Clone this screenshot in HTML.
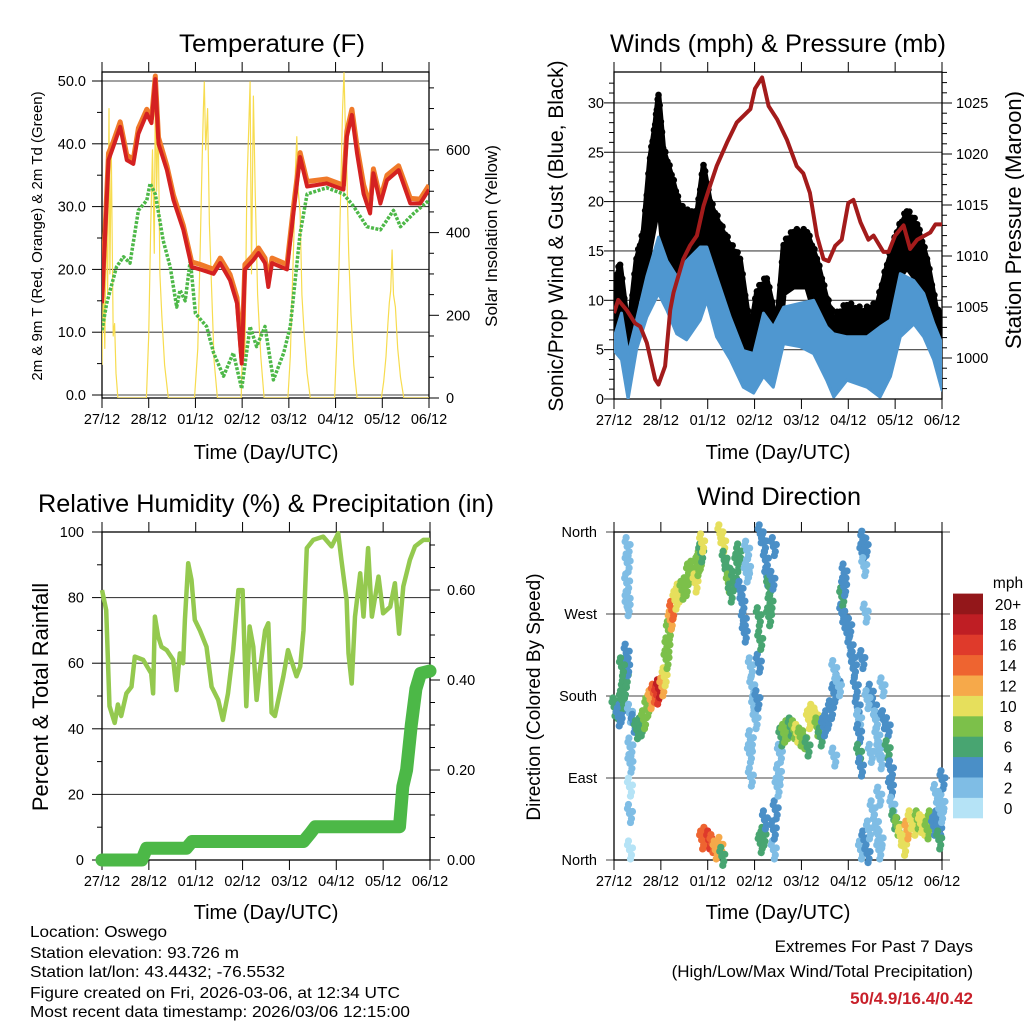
<!DOCTYPE html>
<html><head><meta charset="utf-8"><style>
html,body{margin:0;padding:0;background:#fff;}
svg{display:block;font-family:"Liberation Sans",sans-serif;}
</style></head><body>
<svg id="root" width="1024" height="1024" viewBox="0 0 1024 1024" xmlns="http://www.w3.org/2000/svg">
<rect width="1024" height="1024" fill="#fff"/>
</svg>
<script>
// ---------- Temperature panel data ----------
const redT=[0,0.14,0.24,0.39,0.53,0.67,0.78,0.96,1.06,1.14,1.21,1.39,1.53,1.74,1.92,2.1,2.39,2.53,2.74,2.89,2.99,3.06,3.24,3.35,3.49,3.56,3.64,3.96,4.1,4.24,4.39,4.81,5.17,5.24,5.35,5.46,5.6,5.74,5.81,5.96,6.1,6.35,6.6,6.81,7.0];
const redV=[14.6,37.4,39.5,42.7,37.4,36.8,41.6,44.8,43.3,50.3,40,35.8,31,26.3,20.4,20,19.3,21,18.3,14.6,5,20,21.5,22.6,21,17.2,21,20,29,37.9,33.2,33.7,32.7,41.1,44.6,38.4,32,28.9,35.3,30.5,34.2,35.8,30.5,30.5,32.7];
const orangeV=[15.5,38.5,40.3,43.5,38.2,37.5,42.5,45.5,44,50.8,41,36.5,31.8,27,21.2,20.8,20,21.8,19.2,15.5,6,20.8,22.3,23.4,21.8,18,21.8,20.8,30,38.6,34,34.4,33.4,42,45.5,39.5,33.5,30,36,31.3,35,36.5,31.3,31.2,33.4];
const dewT=[0,0.1,0.31,0.46,0.6,0.78,0.96,1.03,1.14,1.31,1.46,1.6,1.67,1.78,1.89,2.0,2.24,2.39,2.6,2.81,2.99,3.17,3.31,3.49,3.67,3.89,4.03,4.24,4.39,4.81,5.17,5.39,5.67,5.96,6.24,6.39,6.67,7.0];
const dewV=[10.3,14.6,20.4,22,21,29.4,31,33.7,32,24.6,20.4,14,16.7,15,21.5,13,10.9,6.7,3,6.7,1,10.9,7.7,10.9,2.4,6.7,10.9,25.7,32,33,32,30,26.8,26.3,29.4,26.8,28.9,31];
const solarT=[0,0.03,0.06,0.09,0.12,0.15,0.17,0.2,0.24,0.27,0.3,0.34,
0.95,1.0,1.04,1.08,1.12,1.14,1.17,1.2,1.24,1.28,1.34,1.42,
1.98,2.05,2.1,2.14,2.17,2.19,2.22,2.26,2.3,2.35,2.4,2.47,
2.98,3.02,3.06,3.1,3.14,3.17,3.2,3.24,3.28,3.33,3.4,3.47,
3.98,4.03,4.07,4.11,4.14,4.17,4.2,4.24,4.28,4.33,4.39,4.46,
4.98,5.03,5.07,5.11,5.15,5.18,5.21,5.24,5.28,5.33,5.39,5.46,
5.98,6.03,6.08,6.12,6.15,6.18,6.21,6.24,6.28,6.33,6.39,6.46,7.0];
const solarV=[80,300,120,450,250,700,300,600,150,180,60,0,
0,150,400,600,350,740,500,680,300,200,80,0,
0,120,350,560,700,765,600,700,420,250,90,0,
0,200,100,500,650,765,300,730,500,250,100,0,
0,100,250,400,550,632,500,450,250,150,60,0,
0,150,300,500,700,787,650,550,350,200,80,0,
0,40,100,180,230,260,358,250,220,120,50,0,0];
const tempTicks=[0,10,20,30,40,50];
const solarTicks=[0,200,400,600];
const dayLabels=["27/12","28/12","01/12","02/12","03/12","04/12","05/12","06/12"];

// ---------- Winds panel data ----------
const windT=[0,0.16,0.3,0.48,0.7,0.95,1.13,1.34,1.55,1.84,1.98,2.19,2.48,2.76,2.98,3.19,3.4,3.62,3.97,4.26,4.54,4.69,4.97,5.4,5.68,5.9,6.11,6.4,6.61,6.82,7.0];
const windHi=[6.2,8.7,4.6,8,12.4,16.4,14,12.4,14,15.4,15.4,12.4,8.3,4.9,4.6,8.7,7.3,9.3,9.7,10,7.3,6.6,6.3,6.3,7.3,8,12.7,12,10.7,7.7,5.6];
const windLo=[4.9,4,0,5,8.3,10.7,9,6.6,6,8,10,6.3,4,1.2,0.6,2.3,1.2,5.6,5.3,4.6,1.9,0.2,1.9,1.2,0.2,2.3,6.3,7.6,6.3,4,0.9];
const gustT=[0,0.13,0.31,0.48,0.63,0.77,0.88,0.95,1.05,1.23,1.41,1.62,1.77,1.91,2.05,2.26,2.48,2.69,2.91,3.05,3.26,3.48,3.62,3.83,4.12,4.33,4.54,4.69,4.97,5.33,5.61,5.83,6.04,6.25,6.47,6.68,6.89,7.0];
const gustHi=[11.4,13.4,6.6,14,16.7,24.2,27.6,30.6,25.2,22.5,19.2,18.5,18.5,23.5,19.8,17.5,15.4,14,6.6,10.7,12,7.3,15.4,16.7,16.7,14,10,8,9.3,8.7,9.3,13.4,16.7,18.8,17.5,14,8.7,8];
const gustLo=[7.3,6.3,4,10,10.7,15.4,18.1,20.8,15.4,14,12.7,12.7,12,15.4,13.4,10.7,8.7,5.6,4,4.6,6.6,4,10.7,11.4,11.4,8,5.3,4.6,5.3,6,5,7.3,12,13.4,12,10,6,4];
const presT=[0,0.09,0.27,0.45,0.56,0.7,0.88,0.95,1.09,1.2,1.27,1.48,1.62,1.77,1.91,2.05,2.19,2.41,2.62,2.91,3.01,3.16,3.3,3.48,3.69,3.9,4.04,4.18,4.33,4.47,4.58,4.72,4.86,5.0,5.11,5.26,5.43,5.54,5.75,5.86,6.0,6.18,6.32,6.47,6.75,6.86,7.0];
const presV=[1004.4,1005.7,1004.7,1003.4,1003.1,1001.5,997.9,997.4,999.2,1004.7,1006.4,1009.7,1011,1012,1014.9,1016.9,1018.8,1021.1,1023.1,1024.4,1026.4,1027.5,1024.7,1023.4,1021.4,1018.8,1018.1,1016.2,1012,1009.7,1009.5,1011,1011.6,1015.2,1015.5,1013.3,1011.6,1012,1010.4,1010.4,1012,1013,1010.7,1011.6,1012.3,1013.1,1013.1];
const windTicks=[0,5,10,15,20,25,30];
const presTicks=[1000,1005,1010,1015,1020,1025];

// ---------- RH / Precip data ----------
const rhT=[0,0.09,0.16,0.27,0.34,0.41,0.52,0.63,0.7,0.88,1.05,1.09,1.13,1.2,1.27,1.38,1.52,1.59,1.66,1.73,1.77,1.84,1.91,1.98,2.09,2.23,2.34,2.48,2.58,2.69,2.8,2.91,3.0,3.08,3.15,3.23,3.3,3.37,3.48,3.55,3.62,3.69,3.87,3.97,4.15,4.23,4.3,4.37,4.51,4.72,4.9,5.04,5.11,5.22,5.26,5.33,5.4,5.51,5.58,5.68,5.76,5.9,6.0,6.15,6.25,6.34,6.43,6.57,6.68,6.86,7.0];
const rhV=[82.3,76.2,46.9,41.8,47.4,43.9,50.8,52.8,62,61,56.9,50.8,74.2,68.1,65,64,61,51.8,63,60,73.2,90.5,85.4,73.2,70,65,52.8,48.8,42.7,50.8,64,82.3,82.3,46.9,71.2,65,48.8,57.9,70,72.2,44.9,43.9,55.9,64,56,59,70,95.1,97.6,98.6,95.6,99.6,91.5,79.3,63,53.8,74.2,87.4,74.2,95.1,74.2,86.4,75.2,77.2,84.4,69,83.4,91.5,95.6,97.6,97.6];
const rainT=[0,0.85,0.95,1.8,1.92,4.3,4.45,4.55,6.35,6.42,6.5,6.6,6.7,6.8,7.0];
const rainV=[0,0,0.026,0.026,0.041,0.041,0.06,0.074,0.074,0.163,0.2,0.3,0.38,0.415,0.42];
const rhTicks=[0,20,40,60,80,100];
const rainTicks=[0,0.2,0.4,0.6];
const rainTickLabels=["0.00","0.20","0.40","0.60"];

// ---------- Wind direction data ----------
const dirT=[0,.06,.13,.16,.2,.24,.26,.27,.09,.28,.28,.27,.28,.28,.33,.34,.34,.33,.33,.33,.16,
.41,.48,.56,.63,.7,.77,.84,.91,.95,1.02,1.07,1.11,1.13,1.16,1.2,1.23,1.3,1.37,1.45,1.52,1.59,1.66,1.73,1.77,1.82,1.85,1.87,
1.87,1.94,2.02,2.09,2.16,2.26,2.3,
2.26,2.32,2.35,2.41,2.44,2.48,2.55,2.62,2.66,2.69,2.73,2.76,2.78,2.82,2.83,2.85,
2.91,2.94,2.98,3.01,3.05,2.91,2.89,2.91,3.08,3.08,3.11,
3.12,3.19,3.23,3.26,3.3,3.33,3.37,3.4,3.3,3.12,3.18,3.21,3.4,
3.4,3.44,3.48,3.51,3.53,3.56,3.62,3.69,3.76,3.83,3.9,3.97,4.05,4.12,4.15,4.22,4.29,4.33,4.4,4.47,4.54,4.62,4.69,4.76,4.79,4.69,4.69,
4.86,4.86,4.9,4.91,4.94,4.97,5.01,5.04,5.08,5.11,5.15,5.19,5.22,5.22,5.22,5.26,5.29,5.31,5.36,5.33,5.29,5.36,
5.47,5.54,5.58,5.61,5.65,5.68,5.72,5.75,5.83,5.83,5.47,5.4,
5.26,5.33,5.4,5.43,5.51,5.58,5.65,5.68,5.65,
5.9,5.9,5.93,5.97,6.04,6.11,6.18,6.25,6.32,6.4,6.47,6.54,6.61,6.68,6.75,6.82,6.89,6.93,6.97,7.0,7.0,6.86,6.93];
const dirDeg=[168,165,161,176,187,201,227,212,157,344,326,304,285,278,161,124,106,80,51,11,212,
150,143,146,154,168,176,183,181,188,190,201,220,234,252,263,274,285,293,296,300,315,318,304,322,329,337,348,
22,26,22,18,11,15,4,
358,348,329,318,304,293,307,326,337,296,282,263,249,315,340,320,
212,190,168,154,176,132,117,91,216,267,241,
358,348,329,311,300,282,307,344,267,18,26,44,11,
33,55,80,95,117,135,139,143,146,143,139,135,132,124,154,161,157,146,135,146,154,165,183,194,190,209,113,
271,289,300,315,263,249,256,234,220,212,190,168,154,139,117,102,337,351,344,322,220,271,
183,168,154,135,121,110,190,154,146,121,117,176,
11,22,7,33,55,40,70,22,11,
99,80,59,44,37,26,15,33,44,37,44,40,37,33,44,37,44,33,51,62,88,73,22];
const dirSpd=[6,6,5,6,6,6,4,5,5,2,2,2,2,2,2,2,2,1,2,1,6,
4,6,7,8,9,12,15,16,18,12,10,8,8,9,12,14,11,10,9,8,8,9,10,8,8,7,10,
14,15,16,14,12,12,7,
10,10,7,6,8,7,6,7,7,5,4,4,4,3,2,2,
3,2,3,3,4,2,2,2,4,6,7,
5,5,4,5,6,6,4,4,7,6,6,4,3,
4,4,3,2,2,6,8,8,7,8,10,8,8,6,10,11,10,8,6,5,4,4,4,4,3,2,2,
4,6,5,4,4,4,5,4,4,5,4,4,3,4,6,4,4,4,4,3,4,3,
4,4,3,3,3,3,2,4,4,7,2,3,
3,4,4,2,2,2,2,2,2,
4,4,3,6,8,10,10,12,10,10,8,10,10,8,8,5,4,4,3,2,4,2,6];
const dirTicks=[0,90,180,270,360];
const dirTickLabels=["North","East","South","West","North"];
const speedBins=["0","2","4","6","8","10","12","14","16","18","20+"];
const speedColors=["#b5e3f6","#7fbde5","#4a8fc7","#48a571","#7cc04a","#e6df5c","#f6a94a","#ee6430","#df3a2b","#bf1e24","#93171a"];

// ---------- helpers ----------
const NS="http://www.w3.org/2000/svg";
const root=document.getElementById('root');
function mk(tag,attrs,parent){const e=document.createElementNS(NS,tag);for(const k in attrs)e.setAttribute(k,attrs[k]);(parent||root).appendChild(e);return e;}
function txt(s,x,y,size,anchor,parent,extra){const e=mk('text',Object.assign({x:x,y:y,'font-size':size,'text-anchor':anchor||'middle',fill:'#000'},extra||{}),parent);e.textContent=s;return e;}
function pathFrom(ts,vs,xs,ys){let d='';for(let i=0;i<ts.length;i++)d+=(i?'L':'M')+xs(ts[i]).toFixed(1)+','+ys(vs[i]).toFixed(1);return d;}

function panelFrame(g,L,R,T,B,xTicks){
  const fr=mk('rect',{x:L,y:T,width:R-L,height:B-T,fill:'none',stroke:'#000','stroke-width':1.3},g);
  
  
  for(let i=0;i<xTicks.length;i++){
    const x=xTicks[i];
    const t1=mk('line',{x1:x,x2:x,y1:B,y2:B+10,stroke:'#000','stroke-width':1},g);
    
    
    const t2=mk('line',{x1:x,x2:x,y1:T,y2:T-10,stroke:'#000','stroke-width':1},g);
    
    
    const lb=txt(dayLabels[i],x,B+26,14.5,'middle',g);
    
    
  }
}
function hline(g,x1,x2,y,name){const l=mk('line',{x1:x1,x2:x2,y1:y,y2:y,stroke:'#222','stroke-width':1.1,'stroke-opacity':0.85},g);return l;}

// ========== Panel 1: Temperature ==========
(function(){
  const L=102,R=429,T=72,B=398;
  const xs=t=>L+t*(R-L)/7;
  const ys=F=>395-F*6.28;
  const ysol=W=>398-W*0.4135;
  const g=mk('g',{});
  
  
  const ti=txt('Temperature (F)',272,52,25,'middle',g,{textLength:186,lengthAdjust:'spacingAndGlyphs'});
  
  
  tempTicks.forEach(v=>{
    hline(g,L,R,ys(v),'temp-gridline');
    const tk=mk('line',{x1:L-10,x2:L,y1:ys(v),y2:ys(v),stroke:'#000'},g);
    
    
    const lb=txt(v.toFixed(1),L-16,ys(v)+5,14.5,'end',g);
    
    
  });
  for(let v=5;v<=50;v+=10){const m=mk('line',{x1:L-5,x2:L,y1:ys(v),y2:ys(v),stroke:'#000'},g);}
  for(let w=0;w<=750;w+=50){const big=w%200===0;const m=mk('line',{x1:R,x2:R+(big?10:5),y1:ysol(w),y2:ysol(w),stroke:'#000'},g);}
  solarTicks.forEach(w=>{const lb=txt(String(w),R+17,ysol(w)+5,14.5,'start',g);});
  const xt=[];for(let i=0;i<8;i++)xt.push(xs(i));
  panelFrame(g,L,R,T,B,xt);
  const cp=mk('clipPath',{id:'cp1'},g);mk('rect',{x:L,y:T,width:R-L,height:B-T},cp);
  const pg=mk('g',{'clip-path':'url(#cp1)'},g);
  const sol=mk('path',{d:pathFrom(solarT,solarV,xs,ysol),fill:'none',stroke:'#f7dc4f','stroke-width':1.2,'stroke-linejoin':'round'},pg);
  
  
  const dew=mk('path',{d:pathFrom(dewT,dewV,xs,ys),fill:'none',stroke:'#4db848','stroke-width':3.5,'stroke-dasharray':'3 1.5','stroke-linejoin':'round'},pg);
  
  
  const or=mk('path',{d:pathFrom(redT,orangeV,xs,ys),fill:'none',stroke:'#f07a2a','stroke-width':5,'stroke-linejoin':'round'},pg);
  
  
  const rd=mk('path',{d:pathFrom(redT,redV,xs,ys),fill:'none',stroke:'#d42121','stroke-width':4,'stroke-linejoin':'round'},pg);
  
  
  const xl=txt('Time (Day/UTC)',266,459,20,'middle',g);
  
  
  const yl=txt('2m & 9m T (Red, Orange) & 2m Td (Green)',0,0,15,'middle',g,{transform:'translate(42,236) rotate(-90)'});
  
  
  const yr=txt('Solar Insolation (Yellow)',0,0,17,'middle',g,{transform:'translate(497,236) rotate(-90)'});
  
  
})();

// ========== Panel 2: Winds ==========
(function(){
  const L=614,R=942,T=72,B=399;
  const xs=t=>L+t*(R-L)/7;
  const yw=m=>399-m*9.87;
  const yp=p=>358-(p-1000)*10.2;
  const g=mk('g',{});
  
  
  const ti=txt('Winds (mph) & Pressure (mb)',778,52,25,'middle',g,{textLength:336,lengthAdjust:'spacingAndGlyphs'});
  
  
  windTicks.forEach(v=>{
    hline(g,L,R,yw(v),'wind-gridline');
    const tk=mk('line',{x1:L-10,x2:L,y1:yw(v),y2:yw(v),stroke:'#000'},g);
    
    
    const lb=txt(String(v),L-10,yw(v)+5,14.5,'end',g);
    
    
  });
  for(let v=1;v<33;v++){if(v%5){const m=mk('line',{x1:L-5,x2:L,y1:yw(v),y2:yw(v),stroke:'#000'},g);}}
  for(let p=997;p<=1028;p++){const big=p%5===0;const m=mk('line',{x1:R,x2:R+(big?10:5),y1:yp(p),y2:yp(p),stroke:'#000'},g);}
  presTicks.forEach(p=>{const lb=txt(String(p),R+14,yp(p)+5,14.5,'start',g);});
  const xt=[];for(let i=0;i<8;i++)xt.push(xs(i));
  panelFrame(g,L,R,T,B,xt);
  const cp=mk('clipPath',{id:'cp2'},g);mk('rect',{x:L,y:T,width:R-L,height:B-T},cp);
  const pg=mk('g',{'clip-path':'url(#cp2)'},g);
  let d='';
  for(let i=0;i<gustT.length;i++)d+=(i?'L':'M')+xs(gustT[i]).toFixed(1)+','+yw(gustHi[i]).toFixed(1);
  for(let i=gustT.length-1;i>=0;i--)d+='L'+xs(gustT[i]).toFixed(1)+','+yw(gustLo[i]).toFixed(1);
  const gb=mk('path',{d:d+'Z',fill:'#000',stroke:'#000','stroke-width':6,'stroke-linejoin':'round'},pg);
  
  
  // dotted edge along the gust envelope (interpolated between data points)
  for(let i=0;i<gustT.length-1;i++){
    for(let k=0;k<4;k++){
      const f=k/4;
      const t=gustT[i]+(gustT[i+1]-gustT[i])*f;
      const hi=gustHi[i]+(gustHi[i+1]-gustHi[i])*f;
      const c=mk('circle',{cx:xs(t),cy:yw(hi)-2-(k%2)*3,r:3.3,fill:'#000'},pg);
      
      
    }
  }
  let d2='';
  for(let i=0;i<windT.length;i++)d2+=(i?'L':'M')+xs(windT[i]).toFixed(1)+','+yw(windHi[i]).toFixed(1);
  for(let i=windT.length-1;i>=0;i--)d2+='L'+xs(windT[i]).toFixed(1)+','+yw(windLo[i]).toFixed(1);
  const wb=mk('path',{d:d2+'Z',fill:'#4f97d0',stroke:'#4f97d0','stroke-width':3,'stroke-linejoin':'round'},pg);
  
  
  const pr=mk('path',{d:pathFrom(presT,presV,xs,yp),fill:'none',stroke:'#a31b1b','stroke-width':4,'stroke-linejoin':'round'},pg);
  
  
  const xl=txt('Time (Day/UTC)',778,459,20,'middle',g);
  
  
  const yl=txt('Sonic/Prop Wind & Gust (Blue, Black)',0,0,21,'middle',g,{transform:'translate(563,236) rotate(-90)'});
  
  
  const yr=txt('Station Pressure (Maroon)',0,0,22,'middle',g,{transform:'translate(1021,220) rotate(-90)'});
  
  
})();

// ========== Panel 3: RH & Precip ==========
(function(){
  const L=102,R=430,T=532,B=860;
  const xs=t=>L+t*(R-L)/7;
  const yr=h=>860-h*3.28;
  const yi=v=>860-v*450;
  const g=mk('g',{});
  
  
  const ti=txt('Relative Humidity (%) & Precipitation (in)',266,512,25,'middle',g,{textLength:456,lengthAdjust:'spacingAndGlyphs'});
  
  
  rhTicks.forEach(v=>{
    hline(g,L,R,yr(v),'rh-gridline');
    const tk=mk('line',{x1:L-10,x2:L,y1:yr(v),y2:yr(v),stroke:'#000'},g);
    
    
    const lb=txt(String(v),L-18,yr(v)+5,14.5,'end',g);
    
    
  });
  for(let v=10;v<100;v+=20){const m=mk('line',{x1:L-5,x2:L,y1:yr(v),y2:yr(v),stroke:'#000'},g);}
  for(let k=0;k<=14;k++){const v=k*0.05;const big=k%4===0;const m=mk('line',{x1:R,x2:R+(big?10:5),y1:yi(v),y2:yi(v),stroke:'#000'},g);}
  rainTicks.forEach((v,i)=>{const lb=txt(rainTickLabels[i],R+17,yi(v)+5,14.5,'start',g);});
  const xt=[];for(let i=0;i<8;i++)xt.push(xs(i));
  panelFrame(g,L,R,T,B,xt);
  const rh=mk('path',{d:pathFrom(rhT,rhV,xs,yr),fill:'none',stroke:'#94c94f','stroke-width':4.5,'stroke-linejoin':'round'},g);
  
  
  const rn=mk('path',{d:pathFrom(rainT,rainV,xs,yi),fill:'none',stroke:'#4cb847','stroke-width':13,'stroke-linejoin':'round','stroke-linecap':'round'},g);
  
  
  const xl=txt('Time (Day/UTC)',266,919,20,'middle',g);
  
  
  const yl=txt('Percent & Total Rainfall',0,0,22,'middle',g,{transform:'translate(48,697) rotate(-90)'});
  
  
})();

// ========== Panel 4: Wind Direction ==========
(function(){
  const L=614,R=942,T=532,B=860;
  const xs=t=>L+t*(R-L)/7;
  const yd=d=>860-d*0.9111;
  const g=mk('g',{});
  
  
  const ti=txt('Wind Direction',779,505,25,'middle',g,{textLength:164,lengthAdjust:'spacingAndGlyphs'});
  
  
  dirTicks.forEach((v,i)=>{
    hline(g,L-8,R+8,yd(v),'direction-gridline');
    const lb=txt(dirTickLabels[i],L-17,yd(v)+5,14.5,'end',g);
    
    
  });
  const xt=[];for(let i=0;i<8;i++)xt.push(xs(i));
  panelFrame(g,L,R,T,B,xt);
  function bin(s){return Math.min(10,Math.floor(s/2));}
  const offs=[[0,0],[2,5],[-2,-5],[1,9],[-1,-9],[3,-2]];
  for(let i=0;i<dirT.length;i++){
    const col=speedColors[bin(dirSpd[i])];
    const cx=xs(dirT[i]),cy=yd(dirDeg[i]);
    for(const o of offs){
      const c=mk('circle',{cx:cx+o[0],cy:cy+o[1],r:3.6,fill:col},g);
      
      
    }
  }
  const cb=mk('g',{},g);
  
  
  const h=20.4;
  for(let i=0;i<speedBins.length;i++){
    const y=818-(i+1)*h;
    const r=mk('rect',{x:953,y:y,width:30,height:h+0.3,fill:speedColors[i]},cb);
    
    
    const lb=txt(speedBins[i],1008,y+h/2+6,15.5,'middle',cb);
    
    
  }
  const u=txt('mph',1008,588,15.5,'middle',cb);
  
  
  const xl=txt('Time (Day/UTC)',778,919,20,'middle',g);
  
  
  const yl=txt('Direction (Colored By Speed)',0,0,19,'middle',g,{transform:'translate(540,697) rotate(-90)'});
  
  
})();

// ========== Footer ==========
(function(){
  const g=mk('g',{});
  
  
  const lines=["Location: Oswego","Station elevation: 93.726 m","Station lat/lon: 43.4432; -76.5532","Figure created on Fri, 2026-03-06, at 12:34 UTC","Most recent data timestamp: 2026/03/06 12:15:00"];
  const widths=[137,209,255,370,380];
  const ys=[937,958,977,998,1017];
  lines.forEach((s,i)=>{const t=txt(s,30,ys[i],16,'start',g,{textLength:widths[i],lengthAdjust:'spacingAndGlyphs'});});
  const e=mk('g',{});
  
  
  const a=txt('Extremes For Past 7 Days',973,952,17,'end',e);
  
  
  const b=txt('(High/Low/Max Wind/Total Precipitation)',973,977,17,'end',e);
  
  
  const c=txt('50/4.9/16.4/0.42',973,1004,17,'end',e,{fill:'#c8202a','font-weight':'bold'});
  
  
})();
</script>
</body></html>
